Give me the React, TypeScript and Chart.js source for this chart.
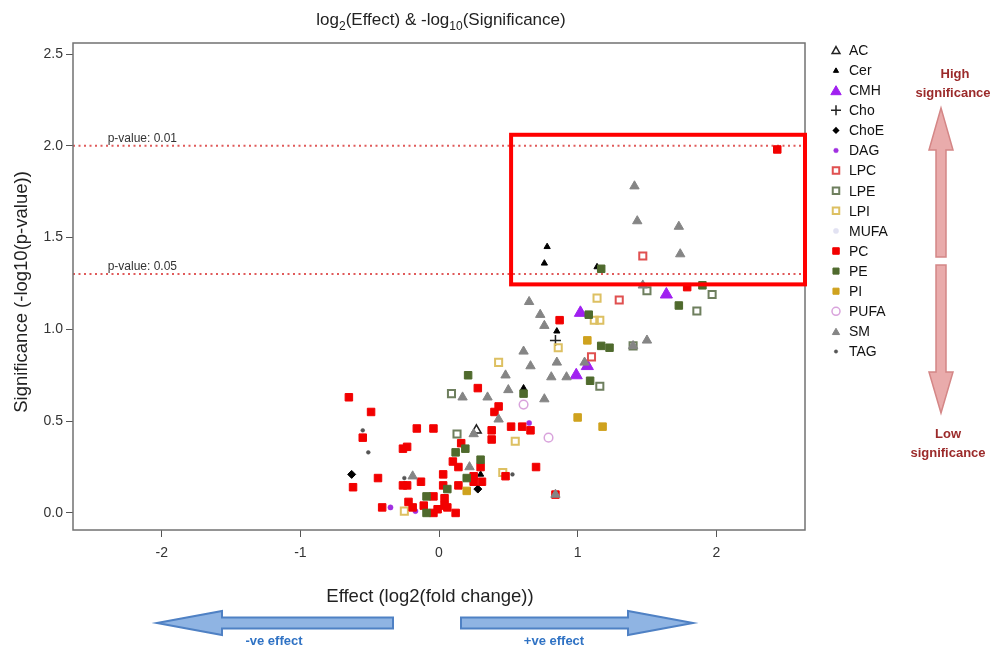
import React, { useEffect, useRef } from "react";
import { Chart, registerables } from "chart.js";
Chart.register(...registerables);

type Pt = [number, number];

// ---- axis ticks ----
const xTicks = [-2, -1, 0, 1, 2];
const yTicks = [0, 0.5, 1, 1.5, 2, 2.5];
const pValueLines = [
  { label: "p-value: 0.01", p: 0.01 },
  { label: "p-value: 0.05", p: 0.05 },
];
const legendNames = ["AC", "Cer", "CMH", "Cho", "ChoE", "DAG", "LPC", "LPE", "LPI", "MUFA", "PC", "PE", "PI", "PUFA", "SM", "TAG"];

// ---- data: [log2 fold change, -log10 p] ----
const AC: Pt[] = [[0.27, 0.45]];
const Cer: Pt[] = [[0.78, 1.45], [0.76, 1.36], [1.14, 1.34], [0.85, 0.99], [0.61, 0.68], [0.30, 0.21]];
const CMH: Pt[] = [[1.64, 1.19], [1.02, 1.09], [1.07, 0.8], [0.99, 0.75]];
const Cho: Pt[] = [[0.84, 0.94]];
const ChoE: Pt[] = [[-0.63, 0.21], [0.28, 0.13]];
const DAG: Pt[] = [[0.65, 0.49], [-0.17, 0.01], [-0.35, 0.03]];
const LPC: Pt[] = [[1.47, 1.4], [1.3, 1.16], [1.1, 0.85]];
const LPE: Pt[] = [[1.5, 1.21], [1.97, 1.19], [1.86, 1.1], [1.16, 0.69], [0.09, 0.65], [0.13, 0.43], [1.4, 0.91]];
const LPI: Pt[] = [[1.14, 1.17], [1.12, 1.05], [1.16, 1.05], [0.86, 0.9], [0.43, 0.82], [0.55, 0.39], [0.46, 0.22], [-0.25, 0.01]];
const MUFA: Pt[] = [];
const PC: Pt[] = [
  [2.44, 1.98], [1.79, 1.23], [0.87, 1.05], [0.28, 0.68], [-0.65, 0.63], [-0.49, 0.55], [-0.55, 0.41],
  [-0.62, 0.14], [-0.44, 0.19], [-0.26, 0.15], [-0.23, 0.15], [-0.13, 0.17], [-0.16, 0.46], [-0.04, 0.46],
  [-0.26, 0.35], [-0.23, 0.36], [0.43, 0.58], [0.4, 0.55], [0.16, 0.38], [0.38, 0.45], [0.38, 0.4],
  [0.52, 0.47], [0.6, 0.47], [0.66, 0.45], [0.1, 0.28], [0.14, 0.25], [0.3, 0.25], [0.03, 0.21],
  [0.25, 0.2], [0.25, 0.17], [0.31, 0.17], [0.48, 0.2], [0.7, 0.25], [0.03, 0.15], [0.14, 0.15],
  [0.84, 0.1], [-0.04, 0.09], [0.04, 0.08], [-0.41, 0.03], [-0.22, 0.06], [-0.19, 0.03], [-0.11, 0.04],
  [-0.04, 0.0], [-0.01, 0.02], [0.04, 0.04], [0.12, 0.0], [0.06, 0.03],
];
const PE: Pt[] = [
  [1.17, 1.33], [1.9, 1.24], [1.73, 1.13], [1.08, 1.08], [1.17, 0.91], [1.23, 0.9], [1.09, 0.72],
  [0.21, 0.75], [0.61, 0.65], [0.19, 0.35], [0.12, 0.33], [0.3, 0.29], [0.2, 0.19], [0.06, 0.13],
  [-0.09, 0.09], [-0.09, 0.0],
];
const PI: Pt[] = [[1.07, 0.94], [1.0, 0.52], [1.18, 0.47], [0.2, 0.12]];
const PUFA: Pt[] = [[0.61, 0.59], [0.79, 0.41]];
const SM: Pt[] = [
  [1.41, 1.78], [1.43, 1.59], [1.73, 1.56], [1.74, 1.41], [1.47, 1.24], [0.65, 1.15], [0.73, 1.08],
  [0.76, 1.02], [1.5, 0.94], [0.61, 0.88], [0.66, 0.8], [0.85, 0.82], [1.05, 0.82], [0.48, 0.75],
  [0.81, 0.74], [0.92, 0.74], [0.76, 0.62], [0.5, 0.67], [0.17, 0.63], [0.35, 0.63], [0.43, 0.51],
  [0.25, 0.43], [0.22, 0.25], [-0.19, 0.2], [0.84, 0.1], [1.4, 0.91],
];
const TAG: Pt[] = [[-0.55, 0.45], [-0.51, 0.33], [-0.25, 0.19], [0.53, 0.21]];

const seriesData: Record<string, Pt[]> = { AC, Cer, CMH, Cho, ChoE, DAG, LPC, LPE, LPI, MUFA, PC, PE, PI, PUFA, SM, TAG };

// ---- styles ----
type Sty = { shape: string; r: number; lr: number; fill: string; stroke: string; lw: number };
const STY: Record<string, Sty> = {
  AC: { shape: "triangle", r: 5.5, lr: 4.5, fill: "rgba(255,255,255,0)", stroke: "#222", lw: 1.5 },
  Cer: { shape: "triangle", r: 3.6, lr: 3, fill: "#000", stroke: "#000", lw: 1 },
  CMH: { shape: "triangle", r: 7, lr: 6, fill: "#a020f0", stroke: "#a020f0", lw: 1 },
  Cho: { shape: "cross", r: 5.5, lr: 5, fill: "#222", stroke: "#222", lw: 1.5 },
  ChoE: { shape: "rectRot", r: 4, lr: 3.6, fill: "#000", stroke: "#000", lw: 1 },
  DAG: { shape: "circle", r: 2.6, lr: 2.3, fill: "#a030e0", stroke: "#a030e0", lw: 0.5 },
  LPC: { shape: "rect", r: 5, lr: 4.6, fill: "rgba(255,255,255,0)", stroke: "#e05050", lw: 2 },
  LPE: { shape: "rect", r: 5, lr: 4.6, fill: "rgba(255,255,255,0)", stroke: "#6e7f5e", lw: 2 },
  LPI: { shape: "rect", r: 5, lr: 4.6, fill: "rgba(255,255,255,0)", stroke: "#ddc062", lw: 2 },
  MUFA: { shape: "circle", r: 2.8, lr: 2.6, fill: "#e2e2f2", stroke: "#e2e2f2", lw: 0.5 },
  PC: { shape: "rect", r: 5.3, lr: 4.6, fill: "#f20000", stroke: "#f20000", lw: 1 },
  PE: { shape: "rect", r: 5.3, lr: 4.3, fill: "#4f6a2d", stroke: "#4f6a2d", lw: 1 },
  PI: { shape: "rect", r: 5.3, lr: 4.3, fill: "#cfa21e", stroke: "#cfa21e", lw: 1 },
  PUFA: { shape: "circle", r: 4.3, lr: 4, fill: "rgba(255,255,255,0)", stroke: "#d9a3dc", lw: 1.5 },
  SM: { shape: "triangle", r: 5.4, lr: 4.2, fill: "#858585", stroke: "#858585", lw: 1 },
  TAG: { shape: "circle", r: 1.9, lr: 1.7, fill: "#555", stroke: "#555", lw: 0.5 },
};

const FONT = '"Liberation Sans", Arial, Helvetica, sans-serif';
const highlightBox = { x0: 0.52, x1: 2.64, y0: 1.245, y1: 2.06 };

function drawShape(ctx: CanvasRenderingContext2D, s: Sty, x: number, y: number, r: number) {
  ctx.beginPath();
  ctx.lineWidth = s.lw;
  ctx.fillStyle = s.fill;
  ctx.strokeStyle = s.stroke;
  if (s.shape === "triangle") {
    const yc = y + r * 0.25;
    ctx.moveTo(x, yc - r);
    ctx.lineTo(x + r * 0.866, yc + r * 0.5);
    ctx.lineTo(x - r * 0.866, yc + r * 0.5);
    ctx.closePath();
    ctx.fill();
    ctx.stroke();
  } else if (s.shape === "cross") {
    ctx.moveTo(x - r, y);
    ctx.lineTo(x + r, y);
    ctx.moveTo(x, y - r);
    ctx.lineTo(x, y + r);
    ctx.stroke();
  } else if (s.shape === "rectRot") {
    ctx.moveTo(x, y - r);
    ctx.lineTo(x + r, y);
    ctx.lineTo(x, y + r);
    ctx.lineTo(x - r, y);
    ctx.closePath();
    ctx.fill();
  } else if (s.shape === "circle") {
    ctx.arc(x, y, r, 0, Math.PI * 2);
    ctx.fill();
    ctx.stroke();
  } else {
    const h = r * 0.707;
    ctx.rect(x - h, y - h, 2 * h, 2 * h);
    ctx.fill();
    ctx.stroke();
  }
}

function arrowPath(ctx: CanvasRenderingContext2D, pts: number[][]) {
  ctx.beginPath();
  pts.forEach((p, i) => (i ? ctx.lineTo(p[0], p[1]) : ctx.moveTo(p[0], p[1])));
  ctx.closePath();
  ctx.fill();
  ctx.stroke();
}

const overlay = {
  id: "overlay",
  beforeDatasetsDraw(chart: any) {
    const { ctx, chartArea: a, scales } = chart;
    const y = scales.y;
    const x = scales.x;
    ctx.save();
    ctx.strokeStyle = "#e05a5a";
    ctx.lineWidth = 2;
    ctx.setLineDash([2, 3.5]);
    pValueLines.forEach((pl) => {
      const py = y.getPixelForValue(-Math.log10(pl.p));
      ctx.beginPath();
      ctx.moveTo(a.left, py);
      ctx.lineTo(a.right, py);
      ctx.stroke();
    });
    ctx.setLineDash([]);
    ctx.fillStyle = "#333";
    ctx.font = "12px " + FONT;
    ctx.textAlign = "left";
    ctx.textBaseline = "alphabetic";
    pValueLines.forEach((pl) => {
      const py = y.getPixelForValue(-Math.log10(pl.p));
      ctx.fillText(pl.label, x.getPixelForValue(-2.39), py - 4);
    });
    ctx.strokeStyle = "#727272";
    ctx.lineWidth = 1.5;
    ctx.strokeRect(a.left, a.top, a.right - a.left, a.bottom - a.top);
    ctx.restore();
  },
  afterDatasetsDraw(chart: any) {
    const { ctx, chartArea: a, scales } = chart;
    const x = scales.x;
    const y = scales.y;
    ctx.save();
    // highlight box
    ctx.strokeStyle = "#ff0000";
    ctx.lineWidth = 4;
    const bx0 = x.getPixelForValue(highlightBox.x0);
    const bx1 = x.getPixelForValue(highlightBox.x1);
    const by0 = y.getPixelForValue(highlightBox.y1);
    const by1 = y.getPixelForValue(highlightBox.y0);
    ctx.strokeRect(bx0, by0, bx1 - bx0, by1 - by0);

    // title with subscripts
    const cx = (a.left + a.right) / 2 + 2;
    const parts: [string, boolean][] = [["log", false], ["2", true], ["(Effect) & -log", false], ["10", true], ["(Significance)", false]];
    const big = "17px " + FONT;
    const small = "12px " + FONT;
    let tw = 0;
    parts.forEach(([t, sub]) => {
      ctx.font = sub ? small : big;
      tw += ctx.measureText(t).width;
    });
    let tx = cx - tw / 2;
    ctx.fillStyle = "#222";
    ctx.textAlign = "left";
    ctx.textBaseline = "alphabetic";
    parts.forEach(([t, sub]) => {
      ctx.font = sub ? small : big;
      ctx.fillText(t, tx, sub ? 30 : 25);
      tx += ctx.measureText(t).width;
    });

    // axis titles
    ctx.font = "18.5px " + FONT;
    ctx.fillStyle = "#222";
    ctx.textAlign = "center";
    ctx.textBaseline = "middle";
    ctx.fillText("Effect (log2(fold change))", 430, 597);
    ctx.save();
    ctx.translate(22, 292);
    ctx.rotate(-Math.PI / 2);
    ctx.fillText("Significance (-log10(p-value))", 0, 0);
    ctx.restore();

    // legend
    legendNames.forEach((n, i) => {
      const ly = 50 + i * 20.1;
      const s = STY[n];
      drawShape(ctx, s, 836, ly, s.lr);
      ctx.font = "14px " + FONT;
      ctx.fillStyle = "#111";
      ctx.textAlign = "left";
      ctx.textBaseline = "middle";
      ctx.fillText(n, 849, ly + 1);
    });

    // vertical significance arrows
    ctx.fillStyle = "rgba(228,150,150,0.8)";
    ctx.strokeStyle = "#d48686";
    ctx.lineWidth = 1.5;
    const ax = 941;
    arrowPath(ctx, [[ax, 108], [ax + 12, 150], [ax + 5, 150], [ax + 5, 257], [ax - 5, 257], [ax - 5, 150], [ax - 12, 150]]);
    arrowPath(ctx, [[ax, 413], [ax + 12, 372], [ax + 5, 372], [ax + 5, 265], [ax - 5, 265], [ax - 5, 372], [ax - 12, 372]]);
    ctx.font = "bold 13px " + FONT;
    ctx.fillStyle = "#9b2a2a";
    ctx.textAlign = "center";
    ctx.textBaseline = "middle";
    ctx.fillText("High", 955, 74);
    ctx.fillText("significance", 953, 93);
    ctx.fillText("Low", 948, 434);
    ctx.fillText("significance", 948, 453);

    // horizontal effect arrows
    ctx.fillStyle = "#8fb4e3";
    ctx.strokeStyle = "#4f81c4";
    ctx.lineWidth = 2;
    const ay = 623;
    arrowPath(ctx, [[157, ay], [222, ay - 12], [222, ay - 5.5], [393, ay - 5.5], [393, ay + 5.5], [222, ay + 5.5], [222, ay + 12]]);
    arrowPath(ctx, [[693, ay], [628, ay - 12], [628, ay - 5.5], [461, ay - 5.5], [461, ay + 5.5], [628, ay + 5.5], [628, ay + 12]]);
    ctx.font = "bold 13px " + FONT;
    ctx.fillStyle = "#2f72c4";
    ctx.fillText("-ve effect", 274, 641);
    ctx.fillText("+ve effect", 554, 641);
    ctx.restore();
  },
};

export default function App() {
  const ref = useRef<HTMLCanvasElement | null>(null);
  useEffect(() => {
    if (!ref.current) return;
    const datasets = legendNames.map((n, i) => {
      const s = STY[n];
      return {
        label: n,
        data: seriesData[n].map(([px, py]) => ({ x: px, y: py })),
        pointStyle: s.shape as any,
        pointRadius: s.r,
        pointHoverRadius: s.r,
        backgroundColor: s.fill,
        borderColor: s.stroke,
        borderWidth: s.lw,
        order: legendNames.length - i,
      };
    });
    const tickFont = { family: FONT, size: 14 };
    const chart = new Chart(ref.current, {
      type: "scatter",
      data: { datasets },
      plugins: [overlay],
      options: {
        animation: false,
        responsive: false,
        events: [],
        layout: { padding: { left: 0, right: 186, top: 43, bottom: 79 } },
        plugins: { legend: { display: false }, tooltip: { enabled: false }, title: { display: false } },
        scales: {
          x: {
            type: "linear",
            min: -2.64,
            max: 2.64,
            afterBuildTicks: (sc: any) => {
              sc.ticks = xTicks.map((v) => ({ value: v }));
            },
            afterFit: (sc: any) => {
              sc.height = 40;
            },
            ticks: { font: tickFont, color: "#333", padding: 8, autoSkip: false, maxRotation: 0, callback: (v: any) => String(v) },
            grid: { drawOnChartArea: false, drawTicks: true, tickLength: 7, color: "#555", lineWidth: 1 },
            border: { display: false },
          },
          y: {
            type: "linear",
            min: -0.093,
            max: 2.56,
            afterBuildTicks: (sc: any) => {
              sc.ticks = yTicks.map((v) => ({ value: v }));
            },
            afterFit: (sc: any) => {
              sc.width = 73;
            },
            ticks: { font: tickFont, color: "#333", padding: 3, autoSkip: false, callback: (v: any) => Number(v).toFixed(1) },
            grid: { drawOnChartArea: false, drawTicks: true, tickLength: 7, color: "#555", lineWidth: 1 },
            border: { display: false },
          },
        },
      },
    });
    return () => chart.destroy();
  }, []);
  return (
    <div style={{ position: "fixed", left: 0, top: 0, width: 991, height: 649, background: "#fff" }}>
      <canvas ref={ref} width={991} height={649} style={{ width: 991, height: 649, display: "block" }} />
    </div>
  );
}
